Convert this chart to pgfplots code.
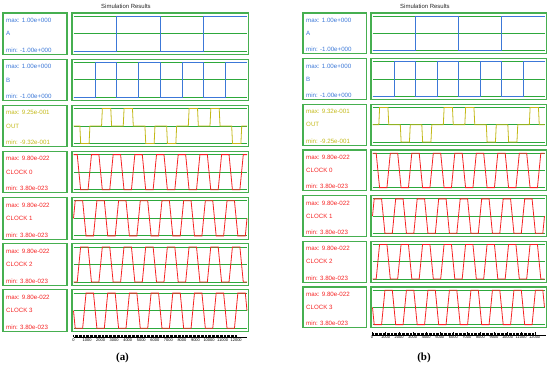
\documentclass[border=0pt]{standalone}
\usepackage{fontspec}
\setmainfont{Liberation Sans}
\newfontfamily\serifbf{Liberation Serif}
\usepackage{pgfplots}
\usepackage{pgfplotstable}
\pgfplotsset{compat=1.18}
\definecolor{boxgreen}{RGB}{70,175,80}
\definecolor{gridgreen}{RGB}{45,168,60}
\definecolor{sigblue}{RGB}{60,120,215}
\definecolor{sigyellow}{RGB}{195,185,25}
\definecolor{sigred}{RGB}{245,35,35}
\newcommand{\lab}{\fontsize{6.2}{7}\selectfont}

\pgfplotstableread{
t v
0 -1
3200 -1
3200 1
6400 1
6400 -1
9600 -1
9600 1
12800 1
}\sigA
\pgfplotstableread{
t v
0 -1
1600 -1
1600 1
3200 1
3200 -1
4800 -1
4800 1
6400 1
6400 -1
8000 -1
8000 1
9600 1
9600 -1
11200 -1
11200 1
12800 1
}\sigB
\pgfplotstableread{
t v
0 0
470 0
530 -0.932
1150 -0.932
1210 0
2070 0
2130 0.925
2750 0.925
2810 0
3670 0
3730 0.925
4350 0.925
4410 0
5270 0
5330 -0.932
5950 -0.932
6010 0
6870 0
6930 -0.932
7550 -0.932
7610 0
8470 0
8530 0.925
9150 0.925
9210 0
10070 0
10130 0.925
10750 0.925
10810 0
11670 0
11730 -0.932
12350 -0.932
12410 0
12800 0
}\outA
\pgfplotstableread{
t v
0 0
470 0
530 0.932
1150 0.932
1210 0
2070 0
2130 -0.925
2750 -0.925
2810 0
3670 0
3730 -0.925
4350 -0.925
4410 0
5270 0
5330 0.932
5950 0.932
6010 0
6870 0
6930 0.932
7550 0.932
7610 0
8470 0
8530 -0.925
9150 -0.925
9210 0
10070 0
10130 -0.925
10750 -0.925
10810 0
11670 0
11730 0.932
12350 0.932
12410 0
12800 0
}\outB
\pgfplotstableread{
t v
0 9.8e-22
275 9.8e-22
525 3.8e-23
1075 3.8e-23
1325 9.8e-22
1875 9.8e-22
2125 3.8e-23
2675 3.8e-23
2925 9.8e-22
3475 9.8e-22
3725 3.8e-23
4275 3.8e-23
4525 9.8e-22
5075 9.8e-22
5325 3.8e-23
5875 3.8e-23
6125 9.8e-22
6675 9.8e-22
6925 3.8e-23
7475 3.8e-23
7725 9.8e-22
8275 9.8e-22
8525 3.8e-23
9075 3.8e-23
9325 9.8e-22
9875 9.8e-22
10125 3.8e-23
10675 3.8e-23
10925 9.8e-22
11475 9.8e-22
11725 3.8e-23
12275 3.8e-23
12525 9.8e-22
12800 9.8e-22
}\clkZero
\pgfplotstableread{
t v
0 5.09e-22
125 9.8e-22
675 9.8e-22
925 3.8e-23
1475 3.8e-23
1725 9.8e-22
2275 9.8e-22
2525 3.8e-23
3075 3.8e-23
3325 9.8e-22
3875 9.8e-22
4125 3.8e-23
4675 3.8e-23
4925 9.8e-22
5475 9.8e-22
5725 3.8e-23
6275 3.8e-23
6525 9.8e-22
7075 9.8e-22
7325 3.8e-23
7875 3.8e-23
8125 9.8e-22
8675 9.8e-22
8925 3.8e-23
9475 3.8e-23
9725 9.8e-22
10275 9.8e-22
10525 3.8e-23
11075 3.8e-23
11325 9.8e-22
11875 9.8e-22
12125 3.8e-23
12675 3.8e-23
12800 5.09e-22
}\clkOne
\pgfplotstableread{
t v
0 3.8e-23
275 3.8e-23
525 9.8e-22
1075 9.8e-22
1325 3.8e-23
1875 3.8e-23
2125 9.8e-22
2675 9.8e-22
2925 3.8e-23
3475 3.8e-23
3725 9.8e-22
4275 9.8e-22
4525 3.8e-23
5075 3.8e-23
5325 9.8e-22
5875 9.8e-22
6125 3.8e-23
6675 3.8e-23
6925 9.8e-22
7475 9.8e-22
7725 3.8e-23
8275 3.8e-23
8525 9.8e-22
9075 9.8e-22
9325 3.8e-23
9875 3.8e-23
10125 9.8e-22
10675 9.8e-22
10925 3.8e-23
11475 3.8e-23
11725 9.8e-22
12275 9.8e-22
12525 3.8e-23
12800 3.8e-23
}\clkTwo
\pgfplotstableread{
t v
0 5.09e-22
125 3.8e-23
675 3.8e-23
925 9.8e-22
1475 9.8e-22
1725 3.8e-23
2275 3.8e-23
2525 9.8e-22
3075 9.8e-22
3325 3.8e-23
3875 3.8e-23
4125 9.8e-22
4675 9.8e-22
4925 3.8e-23
5475 3.8e-23
5725 9.8e-22
6275 9.8e-22
6525 3.8e-23
7075 3.8e-23
7325 9.8e-22
7875 9.8e-22
8125 3.8e-23
8675 3.8e-23
8925 9.8e-22
9475 9.8e-22
9725 3.8e-23
10275 3.8e-23
10525 9.8e-22
11075 9.8e-22
11325 3.8e-23
11875 3.8e-23
12125 9.8e-22
12675 9.8e-22
12800 5.09e-22
}\clkThree

\newcommand{\setrowa}[1]{%
  \pgfmathsetmacro{\btop}{369-(13+46.15*#1)}%
  \pgfmathsetmacro{\bbot}{\btop-41.5}%
  \def\lx{3}\def\lxr{67}\def\wx{72}\def\wxr{248.5}\def\dx{73.5}\def\dw{173.5}%
  \pgfmathsetmacro{\dbot}{\bbot+3.2}\pgfmathsetmacro{\dh}{41.5-6.4}}
\newcommand{\setrowb}[1]{%
  \pgfmathsetmacro{\btop}{369-(13+45.67*#1)}%
  \pgfmathsetmacro{\bbot}{\btop-40.8}%
  \def\lx{303}\def\lxr{366.5}\def\wx{371}\def\wxr{546.5}\def\dx{372.5}\def\dw{172}%
  \pgfmathsetmacro{\dbot}{\bbot+3.2}\pgfmathsetmacro{\dh}{40.8-6.4}}
\newcommand{\boxes}[4]{%
  \begin{scope}[x=1bp,y=1bp]
    \draw[boxgreen,line width=1.1bp] (\lx,\bbot) rectangle (\lxr,\btop);
    \draw[boxgreen,line width=1.1bp] (\wx,\bbot) rectangle (\wxr,\btop);
    \node[anchor=west,inner sep=0pt,text=#1,font=\lab] at (\lx+3,\btop-7.3) {#2};
    \node[anchor=west,inner sep=0pt,text=#1,font=\lab] at ({\lx+3},{(\btop+\bbot)/2}) {#3};
    \node[anchor=west,inner sep=0pt,text=#1,font=\lab] at (\lx+3,\bbot+4.3) {#4};
  \end{scope}}
\newcommand{\wave}[5]{%
  \begin{axis}[at={(\dx bp,\dbot bp)}, anchor=south west, scale only axis,
    width=\dw bp, height=\dh bp, xmin=0, xmax=12800, ymin=#1, ymax=#2,
    ytick={#3}, yticklabels={}, scaled y ticks=false, scaled x ticks=false,
    xtick=\empty, major tick length=0pt,
    axis line style={draw=none}, ymajorgrids,
    grid style={gridgreen,line width=0.8bp}, clip=false]
    \addplot[#4, line width=0.8bp, mark=none] table[x=t,y=v] {#5};
  \end{axis}}
\newcommand{\ruler}[3]{%
  \begin{axis}[at={(#1bp,#2bp)}, anchor=south west, scale only axis,
    width=#3bp, height=2bp, xmin=0, xmax=12800, ymin=0, ymax=1,
    hide y axis, axis x line*=bottom, axis line style={line width=0.5bp},
    scaled x ticks=false, xticklabel pos=lower,
    xtick={0,1000,2000,3000,4000,5000,6000,7000,8000,9000,10000,11000,12000},
    xticklabels={0,1000,2000,3000,4000,5000,6000,7000,8000,9000,10000,11000,12000},
    minor x tick num=9, tick align=inside,
    major tick length=2.6bp, minor tick length=2bp,
    every tick/.style={black,line width=0.3bp},
    xticklabel style={font=\fontsize{4}{4}\selectfont, inner sep=0.8bp, text=black}]
  \end{axis}}

\begin{document}
\begin{tikzpicture}
% ---------- panel (a)
\setrowa{0}\boxes{sigblue}{max: 1.00e+000}{A}{min: -1.00e+000}
\wave{-1}{1}{-1,0,1}{sigblue}{\sigA}
\setrowa{1}\boxes{sigblue}{max: 1.00e+000}{B}{min: -1.00e+000}
\wave{-1}{1}{-1,0,1}{sigblue}{\sigB}
\setrowa{2}\boxes{sigyellow}{max: 9.25e-001}{OUT}{min: -9.32e-001}
\wave{-0.932}{0.925}{-0.932,0,0.925}{sigyellow}{\outA}
\setrowa{3}\boxes{sigred}{max: 9.80e-022}{CLOCK 0}{min: 3.80e-023}
\wave{3.8e-23}{9.8e-22}{3.8e-23,5.09e-22,9.8e-22}{sigred}{\clkZero}
\setrowa{4}\boxes{sigred}{max: 9.80e-022}{CLOCK 1}{min: 3.80e-023}
\wave{3.8e-23}{9.8e-22}{3.8e-23,5.09e-22,9.8e-22}{sigred}{\clkOne}
\setrowa{5}\boxes{sigred}{max: 9.80e-022}{CLOCK 2}{min: 3.80e-023}
\wave{3.8e-23}{9.8e-22}{3.8e-23,5.09e-22,9.8e-22}{sigred}{\clkTwo}
\setrowa{6}\boxes{sigred}{max: 9.80e-022}{CLOCK 3}{min: 3.80e-023}
\wave{3.8e-23}{9.8e-22}{3.8e-23,5.09e-22,9.8e-22}{sigred}{\clkThree}
\ruler{73.5}{31.5}{173.5}
% ---------- panel (b)
\setrowb{0}\boxes{sigblue}{max: 1.00e+000}{A}{min: -1.00e+000}
\wave{-1}{1}{-1,0,1}{sigblue}{\sigA}
\setrowb{1}\boxes{sigblue}{max: 1.00e+000}{B}{min: -1.00e+000}
\wave{-1}{1}{-1,0,1}{sigblue}{\sigB}
\setrowb{2}\boxes{sigyellow}{max: 9.32e-001}{OUT}{min: -9.25e-001}
\wave{-0.925}{0.932}{-0.925,0,0.932}{sigyellow}{\outB}
\setrowb{3}\boxes{sigred}{max: 9.80e-022}{CLOCK 0}{min: 3.80e-023}
\wave{3.8e-23}{9.8e-22}{3.8e-23,5.09e-22,9.8e-22}{sigred}{\clkZero}
\setrowb{4}\boxes{sigred}{max: 9.80e-022}{CLOCK 1}{min: 3.80e-023}
\wave{3.8e-23}{9.8e-22}{3.8e-23,5.09e-22,9.8e-22}{sigred}{\clkOne}
\setrowb{5}\boxes{sigred}{max: 9.80e-022}{CLOCK 2}{min: 3.80e-023}
\wave{3.8e-23}{9.8e-22}{3.8e-23,5.09e-22,9.8e-22}{sigred}{\clkTwo}
\setrowb{6}\boxes{sigred}{max: 9.80e-022}{CLOCK 3}{min: 3.80e-023}
\wave{3.8e-23}{9.8e-22}{3.8e-23,5.09e-22,9.8e-22}{sigred}{\clkThree}
\ruler{372}{34}{173.5}
% ---------- titles and panel letters
\begin{scope}[x=1bp,y=1bp]
  \node[font=\fontsize{6}{7}\selectfont, text=black!85] at (126,363) {Simulation Results};
  \node[font=\fontsize{6}{7}\selectfont, text=black!85] at (425,363) {Simulation Results};
  \node[font=\serifbf\bfseries\fontsize{11}{12}\selectfont] at (122.5,11) {(a)};
  \node[font=\serifbf\bfseries\fontsize{11}{12}\selectfont] at (424,11) {(b)};
\end{scope}
\pgfresetboundingbox
\path[use as bounding box] (0,0) rectangle (550bp,369bp);
\end{tikzpicture}
\end{document}
